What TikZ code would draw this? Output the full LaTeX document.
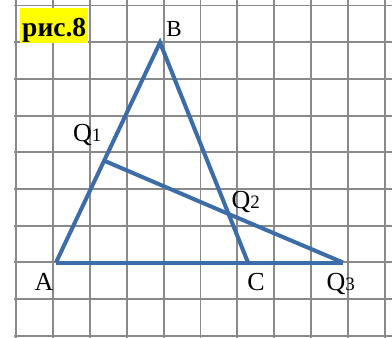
\documentclass[tikz,border=0pt]{standalone}
\usepackage{fontspec}
\setmainfont{Liberation Serif}
\definecolor{gridgray}{HTML}{8A8A8A}
\definecolor{lineblue}{HTML}{3D6DA8}
\definecolor{tagyellow}{HTML}{FFFF00}
\tikzset{
  gridline/.style={draw=gridgray, line width=1.9pt},
  blueline/.style={draw=lineblue, line width=4pt, line join=miter},
  lbl/.style={inner sep=0pt, font=\fontsize{26}{26}\selectfont},
  tag/.style={inner sep=0pt, fill=tagyellow, font=\bfseries\fontsize{27.5}{27.5}\selectfont,
              minimum width=68pt, text height=29pt, text depth=6pt}
}
\newcommand{\smalldigit}[1]{{\fontsize{19}{19}\selectfont #1}}
\begin{document}
\begin{tikzpicture}[x=1pt,y=-1pt]
\useasboundingbox (0,0) rectangle (392,338);
\fill[white] (0,0) rectangle (392,338);
% grid
\foreach \i in {0,...,10} {
  \draw[gridline] ({16+36.9*\i},0) -- ({16+36.9*\i},338);
}
\foreach \j in {0,...,9} {
  \draw[gridline] (14,{5.5+36.7*\j}) -- (392,{5.5+36.7*\j});
}
% points
\coordinate (A) at (56,262.5);
\coordinate (B) at (160,42.5);
\coordinate (C) at (248,262.5);
\coordinate (Q3) at (343,262.5);
\coordinate (Q1) at (104.2,160.7);
\coordinate (Q2) at (228.6,214);
% lines
\draw[blueline] (A) -- (B) -- (C);
\draw[blueline] (A) -- (C) -- (Q3);
\draw[blueline] (Q1) -- (Q2) -- (Q3);
% tag
\node[tag, anchor=south west] (fig) at (20,43) {рис.8};
% labels
\node[lbl, anchor=base, font=\fontsize{23}{23}\selectfont] (lB) at (174,36) {B};
\node[lbl, anchor=base] (lA) at (44,290) {A};
\node[lbl, anchor=base] (lC) at (256,290.5) {C};
\node[lbl, anchor=base west] (lQ1) at (73,141.7) {Q\smalldigit{1}};
\node[lbl, anchor=base west] (lQ2) at (231.5,208.3) {Q\smalldigit{2}};
\node[lbl, anchor=base west] (lQ3) at (326.5,290.3) {Q\smalldigit{3}};
\end{tikzpicture}
\end{document}
